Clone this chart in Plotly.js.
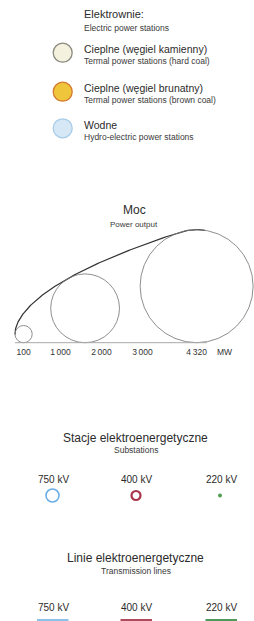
<!DOCTYPE html>
<html>
<head>
<meta charset="utf-8">
<script src="https://cdn.plot.ly/plotly-3.0.1.min.js"></script>
<style>html,body{margin:0;padding:0;background:#fff;}#chart{width:254px;height:621px;}</style>
</head>
<body>
<div id="chart"></div>
<script>
// ---- data ----
const legendHeadingPL = 'Elektrownie:';
const legendHeadingEN = 'Electric power stations';
const stationTypesPL = ['Cieplne (węgiel kamienny)', 'Cieplne (węgiel brunatny)', 'Wodne'];
const stationTypesEN = ['Termal power stations (hard coal)', 'Termal power stations (brown coal)', 'Hydro-electric power stations'];
const powerTitlePL = 'Moc';
const powerTitleEN = 'Power output';
const powerValues = [100, 1600, 4320];          // MW, sample circles
const powerTickVals = [100, 1000, 2000, 3000, 4320];
const powerTickText = ['100', '1\u2009000', '2\u2009000', '3\u2009000', '4\u2009320'];
const powerUnit = 'MW';
const substationTitlePL = 'Stacje elektroenergetyczne';
const substationTitleEN = 'Substations';
const lineTitlePL = 'Linie elektroenergetyczne';
const lineTitleEN = 'Transmission lines';
const voltageLabels = ['750 kV', '400 kV', '220 kV'];

// ---- styles / geometry ----
const W = 254, H = 621;
const FONT = 'Liberation Sans, Arial, sans-serif';
const pxPerMW = 0.041, originPx = 19.5, baselinePx = 342.7;
const plotTopPx = 200, plotBotPx = 345;
const radiusScale = 20.97; // circle radius (MW units) per sqrt(MW)
const stationFill = ['#f4f1de', '#efc53c', '#d6e8f6'];
const stationLine = ['#8c8a80', '#d57a30', '#a8cce8'];
const voltColors = ['#6aaee6', '#a8344a', '#4f9e4f'];
const lineColors = ['#8cc2ea', '#b04a5c', '#4f9a5a'];
const colX = [53, 136.5, 221.5];

const traces = [];
const shapes = [];
const annotations = [];

// power chart circles
const radius = P => radiusScale * Math.sqrt(P);
powerValues.forEach(P => {
  const r = radius(P);
  shapes.push({type: 'circle', xref: 'x', yref: 'y', x0: P - r, x1: P + r, y0: 0, y1: 2 * r,
    line: {color: '#7a7a7a', width: 0.85}});
});
// baseline
shapes.push({type: 'line', xref: 'x', yref: 'y', x0: powerValues[0] - radius(powerValues[0]),
  x1: powerValues[powerValues.length - 1] + 250, y0: 0, y1: 0, line: {color: '#a8a8a8', width: 1}});

// envelope of the circle family (geometric construction of the size scale)
const ex = [], ey = [];
const s0 = Math.sqrt(powerValues[0]), s1 = Math.sqrt(powerValues[powerValues.length - 1]);
for (let i = 0; i <= 160; i++) {
  const s = s0 + (s1 - s0) * i / 160;
  const P = s * s, r = radiusScale * s, k = 2 * s / radiusScale;
  const c = -2 * k / (k * k + 1), sn = (k * k - 1) / (k * k + 1);
  ex.push(P + r * c); ey.push(r + r * sn);
}
// continue along top of the largest circle
{
  const P = s1 * s1, r = radiusScale * s1, k = 2 * s1 / radiusScale;
  const th0 = Math.atan2((k * k - 1) / (k * k + 1), -2 * k / (k * k + 1));
  for (let i = 1; i <= 20; i++) {
    const th = th0 + (Math.PI / 2 - 0.15 - th0) * i / 20;
    ex.push(P + r * Math.cos(th)); ey.push(r + r * Math.sin(th));
  }
}
traces.push({x: ex, y: ey, xaxis: 'x', yaxis: 'y', mode: 'lines', line: {color: '#333', width: 1.2}, hoverinfo: 'skip', cliponaxis: false});

// legend swatches (pixel axes)
const legendY = [52.7, 91.7, 128.3];
stationTypesPL.forEach((t, i) => {
  traces.push({x: [62.7], y: [legendY[i]], xaxis: 'x2', yaxis: 'y2', mode: 'markers',
    marker: {size: 19, color: stationFill[i], line: {color: stationLine[i], width: 1.3}}, hoverinfo: 'skip'});
  annotations.push({xref: 'x2', yref: 'y2', x: 82, y: legendY[i] - 3.6, text: t, showarrow: false,
    xanchor: 'left', yanchor: 'middle', font: {family: FONT, size: 10.5, color: '#2b2b2b'}});
  annotations.push({xref: 'x2', yref: 'y2', x: 82, y: legendY[i] + 8.2, text: stationTypesEN[i], showarrow: false,
    xanchor: 'left', yanchor: 'middle', font: {family: FONT, size: 8.5, color: '#3a3a3a'}});
});
annotations.push({xref: 'x2', yref: 'y2', x: 82, y: 14, text: legendHeadingPL, showarrow: false,
  xanchor: 'left', yanchor: 'middle', font: {family: FONT, size: 11, color: '#2b2b2b'}});
annotations.push({xref: 'x2', yref: 'y2', x: 82, y: 27.5, text: legendHeadingEN, showarrow: false,
  xanchor: 'left', yanchor: 'middle', font: {family: FONT, size: 8.5, color: '#3a3a3a'}});

// power chart titles
annotations.push({xref: 'x2', yref: 'y2', x: 134.5, y: 210, text: powerTitlePL, showarrow: false,
  xanchor: 'center', yanchor: 'middle', font: {family: FONT, size: 12, color: '#2b2b2b'}});
annotations.push({xref: 'x2', yref: 'y2', x: 133.5, y: 224, text: powerTitleEN, showarrow: false,
  xanchor: 'center', yanchor: 'middle', font: {family: FONT, size: 8, color: '#3a3a3a'}});
annotations.push({xref: 'x2', yref: 'y2', x: 224, y: 352, text: powerUnit, showarrow: false,
  xanchor: 'center', yanchor: 'middle', font: {family: FONT, size: 8.5, color: '#333'}});

// substations
annotations.push({xref: 'x2', yref: 'y2', x: 135.5, y: 437.5, text: substationTitlePL, showarrow: false,
  xanchor: 'center', yanchor: 'middle', font: {family: FONT, size: 12, color: '#2b2b2b'}});
annotations.push({xref: 'x2', yref: 'y2', x: 136, y: 450, text: substationTitleEN, showarrow: false,
  xanchor: 'center', yanchor: 'middle', font: {family: FONT, size: 8.5, color: '#3a3a3a'}});
const subSym = ['circle-open', 'circle-open', 'circle'];
const subSize = [13, 9, 4];
const subWidth = [1.6, 2.2, 0];
voltageLabels.forEach((v, i) => {
  annotations.push({xref: 'x2', yref: 'y2', x: colX[i], y: 479, text: v, showarrow: false,
    xanchor: 'center', yanchor: 'middle', font: {family: FONT, size: 10, color: '#2b2b2b'}});
  traces.push({x: [colX[i] - (i === 2 ? 1.5 : 0.5)], y: [495.5], xaxis: 'x2', yaxis: 'y2', mode: 'markers',
    marker: {symbol: subSym[i], size: subSize[i], color: voltColors[i], line: {color: voltColors[i], width: subWidth[i]}},
    hoverinfo: 'skip'});
});

// transmission lines
annotations.push({xref: 'x2', yref: 'y2', x: 135.5, y: 557.5, text: lineTitlePL, showarrow: false,
  xanchor: 'center', yanchor: 'middle', font: {family: FONT, size: 12, color: '#2b2b2b'}});
annotations.push({xref: 'x2', yref: 'y2', x: 136, y: 570.5, text: lineTitleEN, showarrow: false,
  xanchor: 'center', yanchor: 'middle', font: {family: FONT, size: 8.5, color: '#3a3a3a'}});
voltageLabels.forEach((v, i) => {
  annotations.push({xref: 'x2', yref: 'y2', x: colX[i], y: 607.5, text: v, showarrow: false,
    xanchor: 'center', yanchor: 'middle', font: {family: FONT, size: 10, color: '#2b2b2b'}});
  traces.push({x: [colX[i] - 16, colX[i] + 15.5], y: [620.5, 620.5], xaxis: 'x2', yaxis: 'y2', mode: 'lines',
    line: {color: lineColors[i], width: 3}, hoverinfo: 'skip'});
});

const layout = {
  width: W, height: H,
  margin: {l: 0, r: 0, t: 0, b: 0, pad: 0},
  paper_bgcolor: '#ffffff', plot_bgcolor: 'rgba(0,0,0,0)',
  showlegend: false,
  xaxis: {domain: [0, 1], range: [-originPx / pxPerMW, (W - originPx) / pxPerMW], anchor: 'y',
    tickvals: powerTickVals, ticktext: powerTickText, ticks: '', showgrid: false, zeroline: false, showline: false,
    tickfont: {family: FONT, size: 8.5, color: '#333'}, fixedrange: true},
  yaxis: {domain: [1 - plotBotPx / H, 1 - plotTopPx / H], anchor: 'x',
    range: [-(plotBotPx - baselinePx) / pxPerMW, (baselinePx - plotTopPx) / pxPerMW], visible: false, fixedrange: true},
  xaxis2: {domain: [0, 1], range: [0, W], anchor: 'y2', visible: false, fixedrange: true},
  yaxis2: {domain: [0, 1], range: [H, 0], anchor: 'x2', visible: false, fixedrange: true},
  shapes: shapes,
  annotations: annotations
};
Plotly.newPlot('chart', traces, layout, {staticPlot: true, displayModeBar: false});
</script>
</body>
</html>
